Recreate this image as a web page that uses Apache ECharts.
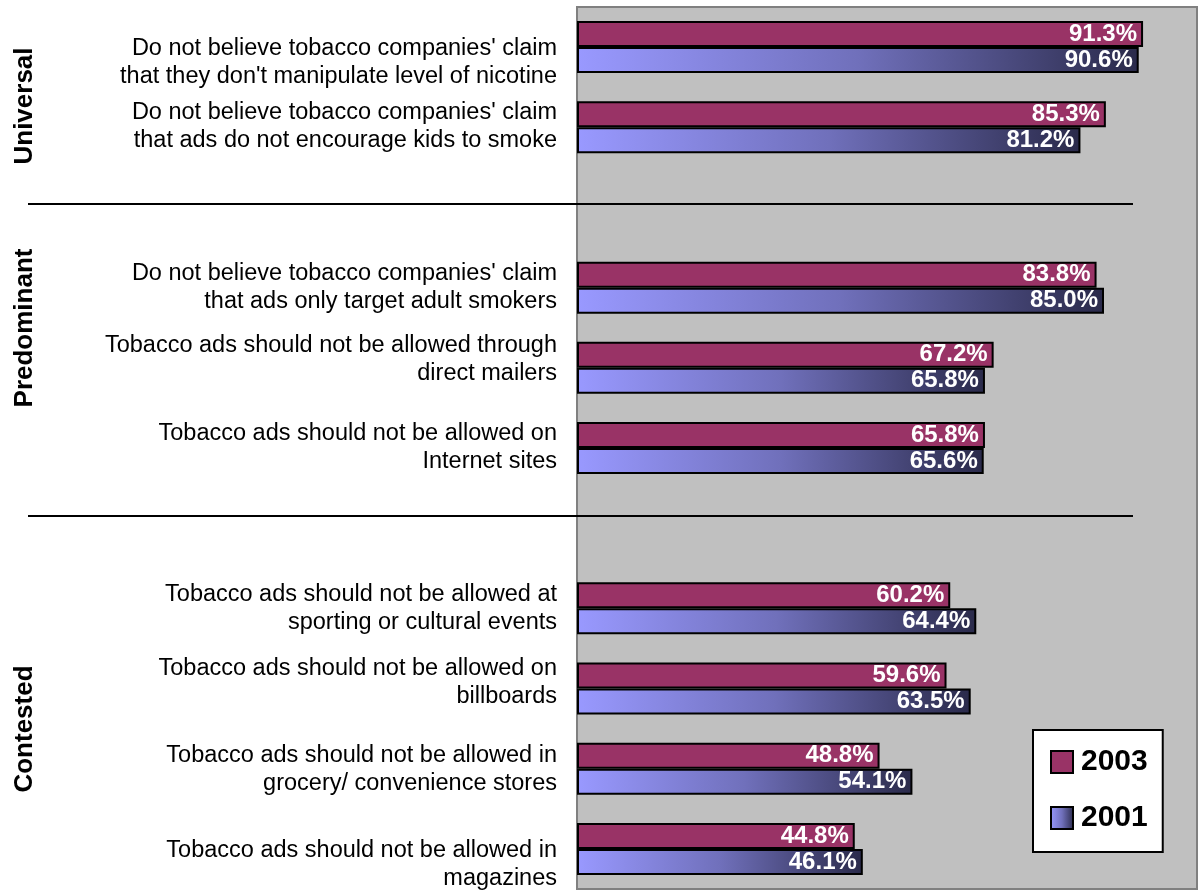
<!DOCTYPE html>
<html>
<head>
<meta charset="utf-8">
<style>
  html, body { margin: 0; padding: 0; background: #ffffff; }
  #chart { width: 1199px; height: 890px; }
</style>
<script src="https://cdn.jsdelivr.net/npm/echarts@6/dist/echarts.min.js"></script>
</head>
<body>
<div id="chart"></div>
<script>
// Statements, top to bottom; empty strings are spacer rows between groups
const categories = [
  "Do not believe tobacco companies' claim\nthat they don't manipulate level of nicotine",
  "Do not believe tobacco companies' claim\nthat ads do not encourage kids to smoke",
  "",
  "Do not believe tobacco companies' claim\nthat ads only target adult smokers",
  "Tobacco ads should not be allowed through\ndirect mailers",
  "Tobacco ads should not be allowed on\nInternet sites",
  "",
  "Tobacco ads should not be allowed at\nsporting or cultural events",
  "Tobacco ads should not be allowed on\nbillboards",
  "Tobacco ads should not be allowed in\ngrocery/ convenience stores",
  "Tobacco ads should not be allowed in\nmagazines"
];

const values2003 = [91.3, 85.3, '-', 83.8, 67.2, 65.8, '-', 60.2, 59.6, 48.8, 44.8];
const values2001 = [90.6, 81.2, '-', 85.0, 65.8, 65.6, '-', 64.4, 63.5, 54.1, 46.1];

const seriesNames = ['2003', '2001'];
const groupNames = ['Universal', 'Predominant', 'Contested'];

// vertical nudge (px) of each wrapped category label relative to its row centre
const labelShift = [15, -1, 0, 0, -8, 0, 0, 0, -6, 1, 16];

const FONT = '"Liberation Sans", Arial, sans-serif';

const chart = echarts.init(document.getElementById('chart'));

const barLabel = {
  show: true,
  position: 'insideRight',
  distance: 6,
  color: '#ffffff',
  fontFamily: FONT,
  fontSize: 24,
  fontWeight: 'bold',
  formatter: p => Number(p.value).toFixed(1) + '%'
};

const GRID_LEFT = 577;

chart.setOption({
  animation: false,
  backgroundColor: '#ffffff',
  grid: {
    left: GRID_LEFT, top: 7, right: 2, bottom: 1,
    show: true,
    backgroundColor: '#c0c0c0',
    borderColor: '#808080',
    borderWidth: 2
  },
  xAxis: {
    type: 'value',
    min: 0, max: 100,
    show: false
  },
  yAxis: {
    type: 'category',
    inverse: true,
    data: categories,
    axisLine: { show: false },
    axisTick: { show: false },
    splitLine: { show: false },
    axisLabel: { show: false }
  },
  legend: {
    orient: 'vertical',
    left: 1033, top: 730,
    data: seriesNames,
    backgroundColor: '#ffffff',
    borderColor: '#000000',
    borderWidth: 2,
    borderRadius: 0,
    padding: [17, 15, 19, 17],
    itemWidth: 22, itemHeight: 22,
    itemGap: 26,
    icon: 'rect',
    textStyle: {
      fontFamily: FONT,
      fontSize: 30,
      fontWeight: 'bold',
      color: '#000000',
      lineHeight: 30,
      padding: [0, 0, 0, 3]
    }
  },
  series: [
    {
      name: seriesNames[0],
      type: 'bar',
      data: values2003,
      barWidth: 26,
      barGap: '0%',
      itemStyle: { color: '#993366', borderColor: '#000000', borderWidth: 2 },
      label: barLabel
    },
    {
      name: seriesNames[1],
      type: 'bar',
      data: values2001,
      barWidth: 26,
      itemStyle: {
        color: new echarts.graphic.LinearGradient(0, 0, 1, 0, [
          { offset: 0, color: '#9999ff' },
          { offset: 0.5, color: '#7070bb' },
          { offset: 1, color: '#2a2a4a' }
        ]),
        borderColor: '#000000',
        borderWidth: 2
      },
      label: barLabel
    }
  ]
});

// Category labels, placed on the rows of the category axis
const categoryTexts = categories.map((c, i) => ({
  type: 'text',
  x: GRID_LEFT - 20,
  y: chart.convertToPixel({ yAxisIndex: 0 }, i) + labelShift[i],
  style: {
    text: c,
    font: '23.5px ' + FONT,
    lineHeight: 28,
    fill: '#000000',
    textAlign: 'right',
    textVerticalAlign: 'middle'
  }
}));

const groupTitle = (name, y) => ({
  type: 'text', x: 25, y: y, rotation: Math.PI / 2,
  style: { text: name, font: 'bold 26px ' + FONT, fill: '#000000', textAlign: 'center', textVerticalAlign: 'middle' }
});

chart.setOption({
  graphic: [
    // group separators
    { type: 'line', shape: { x1: 28, y1: 204, x2: 1133, y2: 204 }, style: { stroke: '#000000', lineWidth: 2 }, z: 10 },
    { type: 'line', shape: { x1: 28, y1: 516, x2: 1133, y2: 516 }, style: { stroke: '#000000', lineWidth: 2 }, z: 10 },
    groupTitle(groupNames[0], 106),
    groupTitle(groupNames[1], 328),
    groupTitle(groupNames[2], 729)
  ].concat(categoryTexts)
});
</script>
</body>
</html>
